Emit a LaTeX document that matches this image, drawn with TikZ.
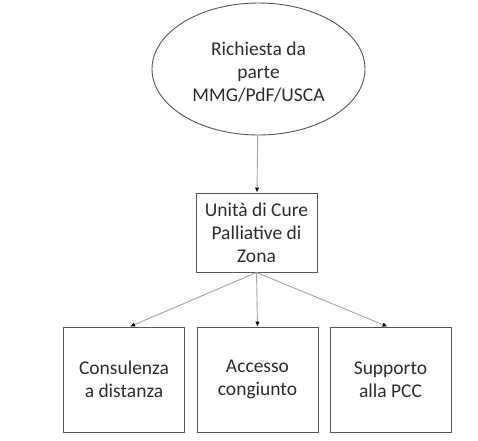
\documentclass[tikz,border=0pt]{standalone}
\usepackage{fontspec}
\setmainfont{Carlito}
\usetikzlibrary{arrows.meta,shapes.geometric}
\definecolor{edgegray}{RGB}{85, 85, 85}
\definecolor{linkgray}{RGB}{165, 165, 165}
\definecolor{textgray}{RGB}{45, 45, 45}

\begin{document}
\begin{tikzpicture}[x=1pt, y=-1pt,
    oval/.style={ellipse, draw=edgegray, line width=0.9pt, minimum width=213pt, minimum height=132pt, inner sep=0pt, text=textgray, font=\fontsize{19.5}{23}\selectfont},
    unit/.style={rectangle, draw=edgegray, line width=0.9pt, minimum width=121pt, minimum height=79pt, align=center, inner sep=0pt, text=textgray, font=\fontsize{19.5}{23}\selectfont},
    service/.style={rectangle, draw=edgegray, line width=0.9pt, minimum width=121pt, minimum height=105pt, align=center, inner sep=0pt, text=textgray, font=\fontsize{19.5}{23}\selectfont},
    link/.style={-{Latex[length=5pt, width=4.5pt, color=black]}, line width=0.9pt, draw=linkgray}]

\useasboundingbox (0,0) rectangle (478,440);

\node[oval] (request) at (258.5, 69) {\raisebox{0pt}[\dimexpr\height+10pt\relax]{\begin{tabular}{@{}c@{}}Richiesta da\\parte\\MMG/PdF/USCA\end{tabular}}};
\node[unit] (ucpz) at (256.5, 232.5) {Unità di Cure\\Palliative di\\Zona};

\node[service] (remote) at (124, 379.5) {Consulenza\\a distanza};
\node[service] (joint) at (257.5, 379.5) {Accesso\\congiunto};
\node[service] (pcc) at (390.5, 379.5) {Supporto\\alla PCC};

\draw[link] (request) -- (ucpz);
\draw[link] (ucpz.south) -- ([xshift=6pt]remote.north);
\draw[link] (ucpz.south) -- (joint.north);
\draw[link] (ucpz.south) -- ([xshift=-3pt]pcc.north);

\end{tikzpicture}
\end{document}
